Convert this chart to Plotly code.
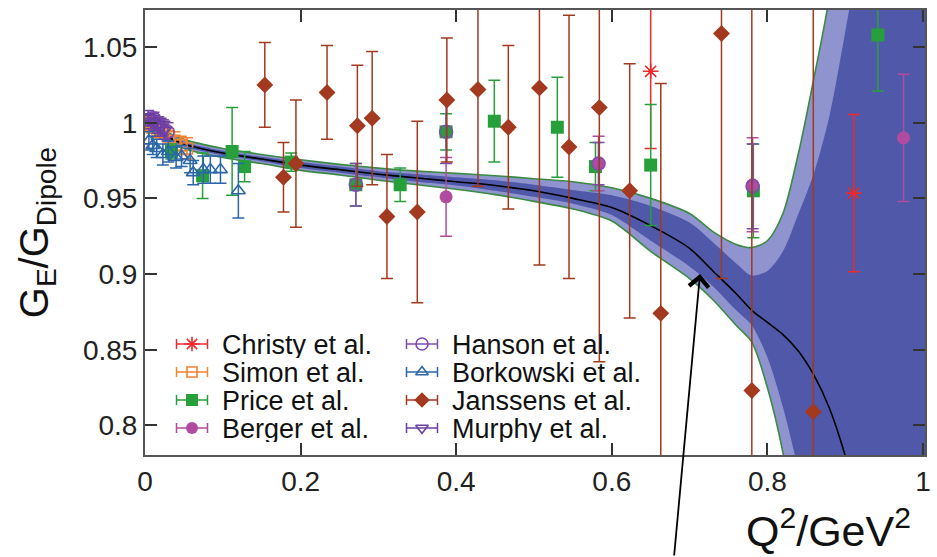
import plotly.graph_objects as go

# ------------------------------------------------------------------ data
CHRISTY_X = [0.650, 0.911]
CHRISTY_Y = [1.034, 0.9535]
CHRISTY_E = [0.051, 0.052]

SIMON_X = [0.002, 0.006, 0.010, 0.016, 0.022, 0.030, 0.038, 0.046, 0.054]
SIMON_Y = [1.000, 0.999, 0.997, 0.995, 0.994, 0.991, 0.988, 0.985, 0.983]
SIMON_E = [0.004, 0.004, 0.004, 0.005, 0.005, 0.005, 0.006, 0.006, 0.007]

PRICE_X = [0.034, 0.074, 0.112, 0.128, 0.188, 0.271, 0.328, 0.387, 0.449, 0.530, 0.579, 0.650, 0.782, 0.942]
PRICE_Y = [0.981, 0.965, 0.981, 0.971, 0.974, 0.959, 0.959, 0.994, 1.001, 0.997, 0.971, 0.972, 0.955, 1.058]
PRICE_E = [0.005, 0.015, 0.029, 0.010, 0.006, 0.014, 0.011, 0.012, 0.027, 0.033, 0.016, 0.040, 0.031, 0.037]

BERGER_X = [0.387, 0.583, 0.781, 0.975]
BERGER_Y = [0.951, 0.973, 0.959, 0.990]
BERGER_E = [0.026, 0.018, 0.031, 0.042]

HANSON_X = [0.006, 0.011, 0.017, 0.023, 0.029, 0.271, 0.387, 0.583, 0.781]
HANSON_Y = [1.002, 1.003, 0.999, 0.997, 0.994, 0.959, 0.994, 0.973, 0.958]
HANSON_E = [0.004, 0.004, 0.005, 0.005, 0.006, 0.014, 0.021, 0.014, 0.028]

BORKOWSKI_X = [0.005, 0.010, 0.015, 0.023, 0.030, 0.040, 0.047, 0.058, 0.062, 0.075, 0.084, 0.097, 0.120]
BORKOWSKI_Y = [0.988, 0.985, 0.983, 0.979, 0.981, 0.977, 0.978, 0.975, 0.967, 0.969, 0.969, 0.969, 0.955]
BORKOWSKI_E = [0.006, 0.006, 0.006, 0.007, 0.007, 0.007, 0.007, 0.008, 0.008, 0.009, 0.009, 0.009, 0.018]

JANSSENS_X = [0.154, 0.178, 0.194, 0.234, 0.273, 0.292, 0.311, 0.350, 0.388, 0.428, 0.467, 0.507, 0.545, 0.584, 0.623, 0.663, 0.741, 0.780, 0.859]
JANSSENS_Y = [1.025, 0.964, 0.973, 1.020, 0.998, 1.003, 0.938, 0.941, 1.015, 1.022, 0.997, 1.023, 0.984, 1.010, 0.955, 0.874, 1.059, 0.823, 0.809]
JANSSENS_E = [0.028, 0.023, 0.042, 0.031, 0.040, 0.044, 0.041, 0.060, 0.041, 0.064, 0.054, 0.117, 0.087, 0.168, 0.084, 0.152, 0.162, 0.300, 0.350]

MURPHY_X = [0.004, 0.008, 0.012, 0.016, 0.020, 0.025]
MURPHY_Y = [1.003, 1.001, 1.000, 0.998, 0.997, 0.995]
MURPHY_E = [0.005, 0.005, 0.005, 0.005, 0.006, 0.006]

# fit band
BAND_X = [0, 0.02, 0.05, 0.1, 0.15, 0.2, 0.25, 0.3, 0.35, 0.4, 0.45, 0.5, 0.55, 0.6, 0.65,
          0.7, 0.73, 0.76, 0.78, 0.8, 0.82, 0.84, 0.86, 0.88, 0.9, 0.92, 0.95, 1.0, 1.003]
FIT_C = [1.0, 0.993, 0.986, 0.980, 0.976, 0.972, 0.969, 0.966, 0.9635, 0.961, 0.9585, 0.955, 0.950, 0.944, 0.932,
         0.917, 0.902, 0.887, 0.876, 0.868, 0.860, 0.849, 0.833, 0.811, 0.780, 0.740, 0.660, 0.500, 0.490]
OUT_UP = [1.003, 0.996, 0.989, 0.983, 0.979, 0.9755, 0.9725, 0.970, 0.968, 0.9665, 0.965, 0.963, 0.961, 0.957, 0.950,
          0.940, 0.928, 0.9195, 0.9175, 0.922, 0.940, 0.980, 1.030, 1.085, 1.20, 1.35, 1.60, 2.00, 2.00]
OUT_LO = [0.997, 0.990, 0.983, 0.977, 0.973, 0.9685, 0.9655, 0.962, 0.959, 0.956, 0.9525, 0.948, 0.943, 0.935, 0.915,
          0.897, 0.883, 0.866, 0.855, 0.825, 0.782, 0.720, 0.650, 0.550, 0.450, 0.350, 0.200, 0.000, 0.000]
IN_UP = [1.0015, 0.9945, 0.9875, 0.9815, 0.9775, 0.974, 0.971, 0.968, 0.966, 0.964, 0.962, 0.959, 0.9555, 0.952, 0.945,
         0.934, 0.921, 0.907, 0.899, 0.902, 0.915, 0.940, 0.967, 1.005, 1.060, 1.120, 1.250, 1.500, 1.500]
IN_LO = [0.9985, 0.9915, 0.9845, 0.9785, 0.9745, 0.970, 0.967, 0.964, 0.961, 0.9585, 0.955, 0.951, 0.9465, 0.939, 0.922,
         0.905, 0.892, 0.876, 0.866, 0.845, 0.812, 0.770, 0.720, 0.650, 0.550, 0.450, 0.300, 0.000, 0.000]

X_TICKS = [0, 0.2, 0.4, 0.6, 0.8, 1.0]
X_TICK_LABELS = ["0", "0.2", "0.4", "0.6", "0.8", "1"]
Y_TICKS = [0.8, 0.85, 0.9, 0.95, 1.0, 1.05]
Y_TICK_LABELS = ["0.8", "0.85", "0.9", "0.95", "1", "1.05"]

SERIES = [
    # name, x, y, err, color, symbol, size, open
    ("Christy et al.", CHRISTY_X, CHRISTY_Y, CHRISTY_E, "#ec2a2c", "asterisk-open", 13, True),
    ("Simon et al.", SIMON_X, SIMON_Y, SIMON_E, "#f08330", "square-open", 11, True),
    ("Price et al.", PRICE_X, PRICE_Y, PRICE_E, "#27a03c", "square", 13, False),
    ("Berger et al.", BERGER_X, BERGER_Y, BERGER_E, "#b04ca0", "circle", 13, False),
    ("Hanson et al.", HANSON_X, HANSON_Y, HANSON_E, "#7f4cae", "circle-open", 13, True),
    ("Borkowski et al.", BORKOWSKI_X, BORKOWSKI_Y, BORKOWSKI_E, "#2b67a8", "triangle-up-open", 12, True),
    ("Janssens et al.", JANSSENS_X, JANSSENS_Y, JANSSENS_E, "#a3391f", "diamond", 13, False),
    ("Murphy et al.", MURPHY_X, MURPHY_Y, MURPHY_E, "#6c3fa4", "triangle-down-open", 12, True),
]

# legend layout (pixel units of the overlay axes)
LEG_SYM_X = [192, 422]
LEG_TXT_X = [220, 450]
LEG_ROW_Y = [344, 372, 400, 428]

FONT = "Liberation Sans, Arial, Helvetica, sans-serif"

fig = go.Figure()

# band
fig.add_trace(go.Scatter(x=BAND_X + BAND_X[::-1], y=OUT_UP + OUT_LO[::-1], fill="toself",
                         fillcolor="#8f94cf", line=dict(width=0, shape="spline", smoothing=0.8),
                         mode="lines", hoverinfo="skip", showlegend=False))
fig.add_trace(go.Scatter(x=BAND_X + BAND_X[::-1], y=IN_UP + IN_LO[::-1], fill="toself",
                         fillcolor="#5059a9", line=dict(width=0, shape="spline", smoothing=0.8),
                         mode="lines", hoverinfo="skip", showlegend=False))
for edge in (OUT_UP, OUT_LO):
    fig.add_trace(go.Scatter(x=BAND_X, y=edge, mode="lines",
                             line=dict(color="#3a8a44", width=1.6, shape="spline", smoothing=0.8),
                             hoverinfo="skip", showlegend=False))
fig.add_trace(go.Scatter(x=BAND_X, y=FIT_C, mode="lines",
                         line=dict(color="black", width=1.6, shape="spline", smoothing=0.8),
                         hoverinfo="skip", showlegend=False))

# data
for name, xs, ys, es, col, sym, size, is_open in SERIES:
    marker = dict(symbol=sym, size=size, color=col)
    if is_open:
        marker["line"] = dict(color=col, width=1.6)
    fig.add_trace(go.Scatter(
        x=xs, y=ys, mode="markers", name=name, marker=marker,
        error_y=dict(type="data", array=es, color=col, thickness=1.5, width=6),
        showlegend=False, cliponaxis=True))

# hand-made legend (keys with horizontal error bars, like the original)
annotations = []
for i, (name, xs, ys, es, col, sym, size, is_open) in enumerate(SERIES):
    c, r = divmod(i, 4)
    marker = dict(symbol=sym, size=size - 1, color=col)
    if is_open:
        marker["line"] = dict(color=col, width=1.6)
    fig.add_trace(go.Scatter(
        x=[LEG_SYM_X[c]], y=[LEG_ROW_Y[r]], xaxis="x2", yaxis="y2", mode="markers",
        marker=marker, showlegend=False, hoverinfo="skip",
        error_x=dict(type="constant", value=15.5, color=col, thickness=1.5, width=5)))
    annotations.append(dict(text=name, x=LEG_TXT_X[c], y=LEG_ROW_Y[r], xref="x2", yref="y2",
                            xanchor="left", yanchor="middle", showarrow=False, height=27,
                            font=dict(family=FONT, size=27, color="#111")))

# x-axis title placed at bottom right, as in the original
annotations.append(dict(text="Q<sup>2</sup>/GeV<sup>2</sup>", xref="paper", yref="paper",
                        x=0.876, y=-0.229, xanchor="center", yanchor="bottom", showarrow=False,
                        font=dict(family=FONT, size=43, color="#111")))
# arrow pointing at the fit curve
annotations.append(dict(text="", x=0.7134, y=0.900, xref="x", yref="y", showarrow=True,
                        ax=-26, ay=283, arrowhead=4, arrowsize=2.1, arrowwidth=1.8,
                        arrowcolor="black", standoff=0))

axis_common = dict(ticks="inside", ticklen=12, tickwidth=1.5, tickcolor="#333",
                   showline=True, linecolor="#555", linewidth=2, mirror="ticks",
                   showgrid=False, zeroline=False, automargin=False,
                   tickfont=dict(family=FONT, size=28, color="#222"))

fig.update_layout(
    width=937, height=557,
    margin=dict(l=145, r=12, t=10, b=102),
    paper_bgcolor="white", plot_bgcolor="white",
    showlegend=False,
    font=dict(family=FONT),
    hovermode=False,
    xaxis=dict(range=[0, 1.0026], tickvals=X_TICKS, ticktext=X_TICK_LABELS,
               ticklabelstandoff=0, **axis_common),
    yaxis=dict(range=[0.7804, 1.0745], tickvals=Y_TICKS, ticktext=Y_TICK_LABELS,
               ticklabelstandoff=0,
               title=dict(text="G<sub>E</sub>/G<sub>Dipole</sub>", standoff=22,
                          font=dict(family=FONT, size=40, color="#111")),
               **axis_common),
    xaxis2=dict(overlaying="x", range=[145, 925], visible=False, fixedrange=True),
    yaxis2=dict(overlaying="y", range=[455, 10], visible=False, fixedrange=True),
    annotations=annotations,
)

fig.write_html("out.html", config={"displayModeBar": False},
               post_script="document.body.style.margin='0px';")
